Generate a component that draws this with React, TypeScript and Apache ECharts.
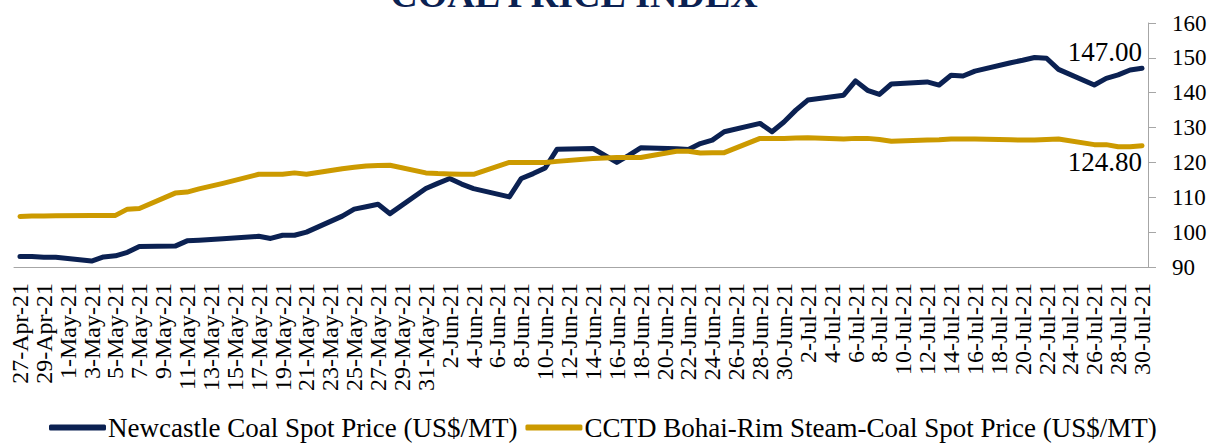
import React, { useEffect, useRef } from "react";
import * as echarts from "echarts";

const categories: string[] = [
  "27-Apr-21","28-Apr-21","29-Apr-21","30-Apr-21",
  "1-May-21","2-May-21","3-May-21","4-May-21","5-May-21","6-May-21","7-May-21","8-May-21","9-May-21","10-May-21",
  "11-May-21","12-May-21","13-May-21","14-May-21","15-May-21","16-May-21","17-May-21","18-May-21","19-May-21","20-May-21",
  "21-May-21","22-May-21","23-May-21","24-May-21","25-May-21","26-May-21","27-May-21","28-May-21","29-May-21","30-May-21","31-May-21",
  "1-Jun-21","2-Jun-21","3-Jun-21","4-Jun-21","5-Jun-21","6-Jun-21","7-Jun-21","8-Jun-21","9-Jun-21","10-Jun-21",
  "11-Jun-21","12-Jun-21","13-Jun-21","14-Jun-21","15-Jun-21","16-Jun-21","17-Jun-21","18-Jun-21","19-Jun-21","20-Jun-21",
  "21-Jun-21","22-Jun-21","23-Jun-21","24-Jun-21","25-Jun-21","26-Jun-21","27-Jun-21","28-Jun-21","29-Jun-21","30-Jun-21",
  "1-Jul-21","2-Jul-21","3-Jul-21","4-Jul-21","5-Jul-21","6-Jul-21","7-Jul-21","8-Jul-21","9-Jul-21","10-Jul-21",
  "11-Jul-21","12-Jul-21","13-Jul-21","14-Jul-21","15-Jul-21","16-Jul-21","17-Jul-21","18-Jul-21","19-Jul-21","20-Jul-21",
  "21-Jul-21","22-Jul-21","23-Jul-21","24-Jul-21","25-Jul-21","26-Jul-21","27-Jul-21","28-Jul-21","29-Jul-21","30-Jul-21",
];

const N = null;
// Newcastle Coal Spot Price (US$/MT), weekdays only (weekends null)
const newcastle: (number | null)[] = [
  93.0, 93.0, 92.8, 92.8,
  N, N, 91.7, 92.9, 93.2, 94.2, 95.9, N, N, 96.0,
  97.5, 97.7, 97.9, 98.1, N, N, 98.8, 98.2, 99.1, 99.1,
  100.0, N, N, 104.6, 106.6, 107.3, 108.0, 105.3, N, N, 112.5,
  114.0, 115.4, 113.8, 112.5, N, N, 110.1, 115.4, 116.8, 118.4,
  123.8, N, N, 124.0, 122.0, 120.0, 122.0, 124.2, N, N,
  123.9, 123.7, 125.4, 126.4, 128.8, N, N, 131.2, 128.8, 131.6,
  135.0, 137.9, N, N, 139.3, 143.4, 140.7, 139.5, 142.5, N,
  N, 143.1, 142.2, 145.0, 144.8, 146.2, N, N, 148.6, 149.3,
  150.1, 149.9, 146.7, N, N, 142.2, 144.1, 145.1, 146.5, 147.0,
];

// CCTD Bohai-Rim Steam-Coal Spot Price (US$/MT)
const cctd: (number | null)[] = [
  104.5, 104.6, 104.6, 104.7,
  N, N, 104.8, 104.8, 104.8, 106.6, 106.8, N, N, 111.2,
  111.5, 112.4, 113.2, 114.0, N, N, 116.6, 116.6, 116.6, 117.0,
  116.6, N, N, 118.2, 118.6, 119.0, 119.1, 119.2, N, N, 117.0,
  116.8, 116.7, 116.6, 116.6, N, N, 120.0, 120.0, 120.0, 120.0,
  120.3, N, N, 121.1, 121.3, 121.4, 121.4, 121.4, N, N,
  123.2, 123.2, 122.7, 122.8, 122.8, N, N, 126.9, 126.9, 126.9,
  127.0, 127.1, N, N, 126.7, 126.9, 126.9, 126.6, 126.1, N,
  N, 126.4, 126.5, 126.7, 126.7, 126.7, N, N, 126.5, 126.4,
  126.4, 126.6, 126.7, N, N, 125.1, 125.1, 124.5, 124.5, 124.8,
];

const seriesNames = [
  "Newcastle Coal Spot Price (US$/MT)",
  "CCTD Bohai-Rim Steam-Coal Spot Price (US$/MT)",
];
const endLabels = ["147.00", "124.80"];
const titleText = "COAL PRICE INDEX";

const NAVY = "#0B2152";
const GOLD = "#CC9A00";
const AXIS = "#A6A6A6";
const FONT = "'Liberation Serif', 'Times New Roman', serif";

export default function App() {
  const ref = useRef<HTMLDivElement>(null);
  useEffect(() => {
    if (!ref.current) return;
    const chart = echarts.init(ref.current, undefined, { renderer: "svg" });
    const last = categories.length - 1;
    const mkLabel = (pos: string, text: string) => ({
      show: true,
      position: pos,
      align: "right",
      distance: 3,
      fontFamily: FONT,
      fontSize: 27,
      color: "#000",
      formatter: (p: any) => (p.dataIndex === last ? text : ""),
    });
    chart.setOption({
      animation: false,
      textStyle: { fontFamily: FONT },
      title: {
        text: titleText,
        left: 569,
        top: -30,
        textAlign: "center",
        textStyle: { fontFamily: FONT, fontSize: 38, fontWeight: "bold", color: NAVY },
      },
      legend: {
        top: 409,
        left: 44,
        itemWidth: 57,
        itemHeight: 6,
        itemGap: 8,
        icon: "roundRect",
        textStyle: { fontFamily: FONT, fontSize: 27, color: "#000", padding: [0, 0, 0, -3] },
        data: seriesNames,
      },
      grid: { left: 14, right: 70, top: 23, bottom: 176, containLabel: false },
      xAxis: {
        type: "category",
        data: categories,
        boundaryGap: true,
        axisLine: { lineStyle: { color: AXIS, width: 1 } },
        axisTick: { interval: 1, length: 9, lineStyle: { color: AXIS } },
        axisLabel: {
          interval: 1,
          rotate: 90,
          margin: 16,
          fontFamily: FONT,
          fontSize: 24,
          color: "#000",
        },
        splitLine: { show: false },
      },
      yAxis: {
        type: "value",
        position: "right",
        min: 90,
        max: 160,
        interval: 10,
        axisLine: { show: true, lineStyle: { color: AXIS, width: 1 } },
        axisTick: { show: true, length: 8, lineStyle: { color: AXIS } },
        axisLabel: { margin: 24, fontFamily: FONT, fontSize: 23, color: "#000" },
        splitLine: { show: false },
      },
      series: [
        {
          name: seriesNames[0],
          type: "line",
          data: newcastle,
          connectNulls: true,
          showSymbol: true,
          symbol: "circle",
          symbolSize: 0.1,
          color: NAVY,
          itemStyle: { color: NAVY },
          lineStyle: { color: NAVY, width: 5, cap: "round", join: "round" },
          label: mkLabel("top", endLabels[0]),
        },
        {
          name: seriesNames[1],
          type: "line",
          data: cctd,
          connectNulls: true,
          showSymbol: true,
          symbol: "circle",
          symbolSize: 0.1,
          color: GOLD,
          itemStyle: { color: GOLD },
          lineStyle: { color: GOLD, width: 5, cap: "round", join: "round" },
          label: mkLabel("bottom", endLabels[1]),
        },
      ],
    });
    return () => chart.dispose();
  }, []);
  return (
    <div
      ref={ref}
      style={{ position: "fixed", left: 0, top: 0, width: 1218, height: 443, background: "#fff" }}
    />
  );
}
